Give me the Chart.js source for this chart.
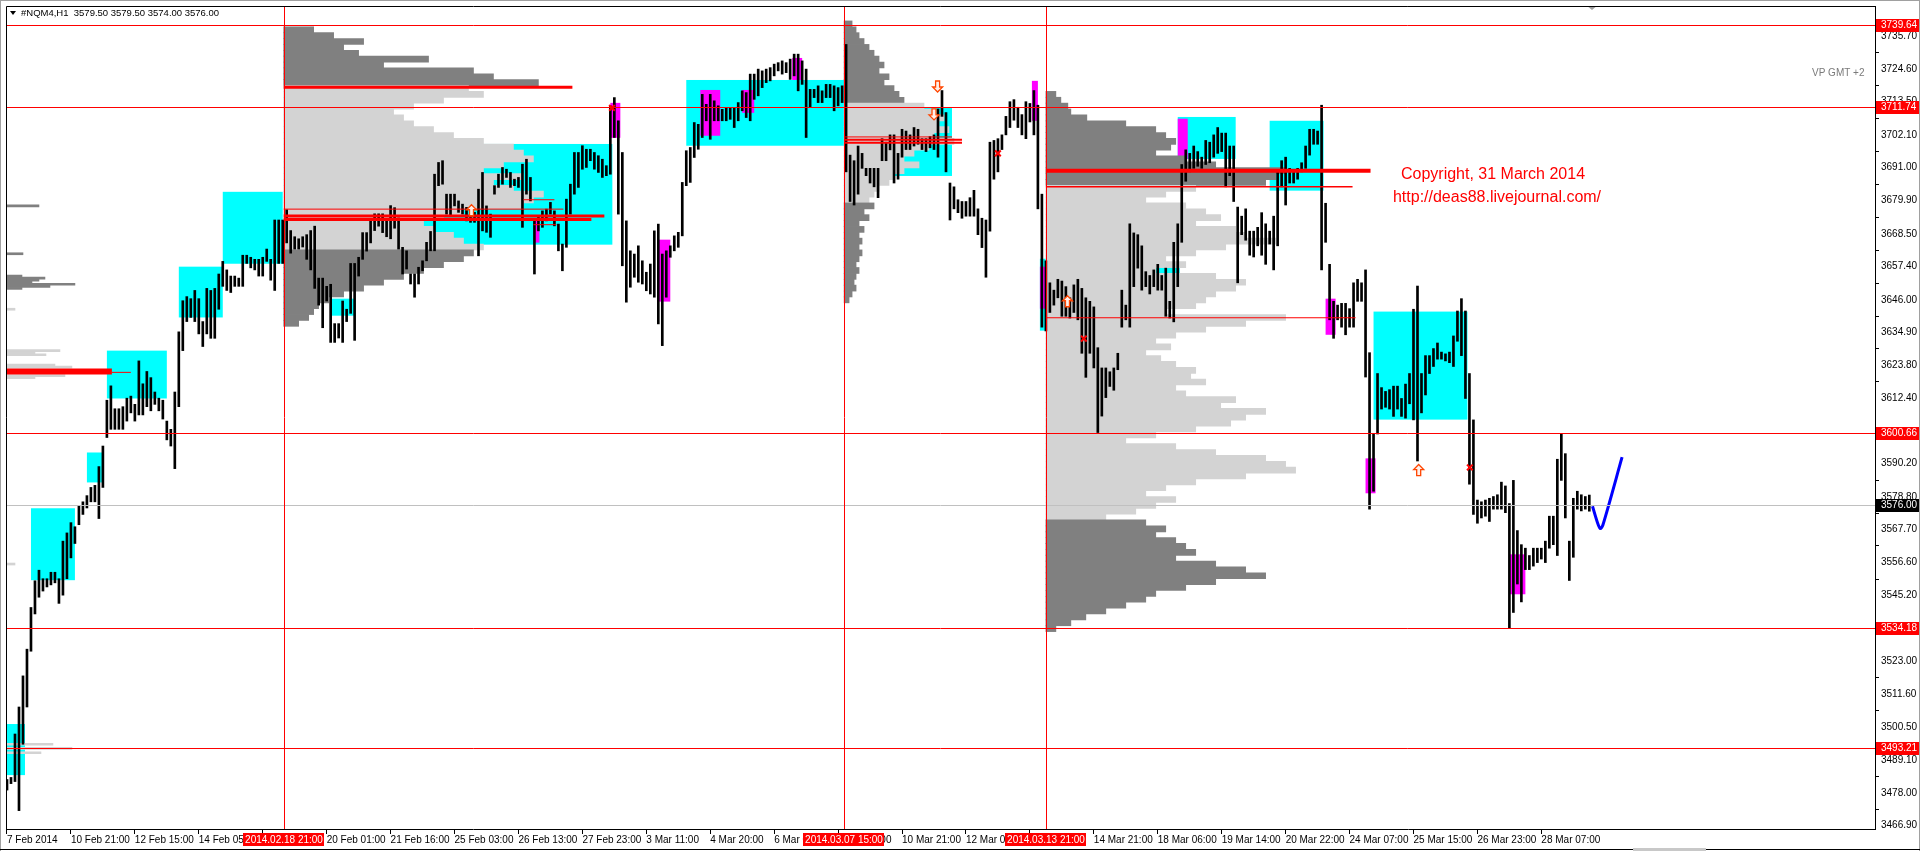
<!DOCTYPE html>
<html>
<head>
<meta charset="utf-8">
<title>#NQM4,H1</title>
<script src="https://cdn.jsdelivr.net/npm/chart.js@4.4.1/dist/chart.umd.min.js"></script>
<style>
html,body{margin:0;padding:0;background:#fff;overflow:hidden;}
canvas{display:block;}
</style>
</head>
<body>
<canvas id="chart" width="1920" height="851"></canvas>
<script>
// ---------------- DATA ----------------
const symbolTitle = '#NQM4,H1';
const lastBarOHLC = ['3579.50', '3579.50', '3574.00', '3576.00'];

// hourly bars (one entry per bar slot), high and low prices
const barHigh = [
3482.6,3483.3,3498.1,3507.3,3517.9,3527.0,3541.2,3550.3,3553.9,3551.0,
3551.0,3553.2,3553.2,3551.0,3563.8,3566.6,3570.1,3568.7,3575.8,3577.2,
3579.3,3582.1,3582.8,3589.2,3596.2,3611.8,3616.7,3608.9,3608.9,3609.6,
3612.5,3613.2,3610.4,3625.2,3617.4,3621.6,3619.5,3614.6,3612.5,3611.8,
3604.7,3601.9,3614.6,3635.1,3645.7,3647.1,3646.4,3649.2,3646.4,3638.6,
3649.9,3649.2,3649.9,3654.8,3659.1,3656.2,3654.1,3654.1,3653.4,3661.2,
3661.2,3660.5,3659.8,3659.8,3660.5,3663.3,3659.8,3673.2,3673.2,3673.2,
3676.7,3669.6,3667.5,3666.8,3667.5,3668.2,3669.6,3671.1,3653.4,3653.4,
3650.6,3651.3,3637.9,3637.9,3645.6,3642.8,3658.4,3658.4,3660.5,3668.9,
3668.9,3673.2,3675.3,3675.3,3675.3,3673.2,3678.1,3677.4,3673.9,3663.9,
3662.7,3654.8,3654.8,3657.1,3659.3,3665.6,3669.3,3688.8,3692.8,3693.4,
3682.0,3682.0,3682.0,3679.7,3678.6,3677.5,3676.3,3675.8,3683.7,3689.4,
3678.0,3675.2,3684.9,3688.8,3691.1,3690.5,3689.4,3687.1,3687.7,3692.2,
3693.9,3687.7,3672.9,3674.1,3676.3,3676.9,3679.2,3676.3,3671.8,3665.0,
3680.3,3685.4,3696.2,3696.2,3698.5,3697.3,3697.3,3696.2,3695.1,3693.9,
3691.7,3712.1,3714.9,3707.0,3696.2,3672.9,3662.7,3661.6,3664.4,3659.3,
3655.4,3658.2,3669.5,3671.8,3661.6,3662.7,3664.4,3667.8,3669.0,3686.0,
3696.8,3697.9,3706.4,3705.8,3716.0,3712.6,3716.0,3713.8,3712.1,3710.9,
3711.5,3711.5,3711.5,3713.2,3717.2,3716.6,3722.9,3722.9,3724.6,3724.0,
3724.6,3725.1,3726.3,3726.8,3727.4,3726.8,3728.0,3729.7,3729.7,3727.4,
3724.6,3717.7,3717.7,3718.9,3717.2,3719.4,3719.4,3718.9,3718.3,3718.9,
3733.0,3695.3,3693.4,3698.4,3695.9,3690.8,3690.8,3690.8,3690.8,3700.9,
3699.7,3702.2,3702.2,3695.9,3704.1,3703.5,3702.2,3704.7,3704.1,3700.9,
3700.9,3701.6,3702.2,3711.0,3717.3,3709.8,3685.8,3684.5,3680.1,3679.5,
3679.5,3680.8,3683.3,3677.0,3673.8,3673.2,3699.7,3700.3,3700.9,3702.2,
3708.5,3713.5,3714.2,3711.6,3709.1,3713.5,3712.9,3717.3,3712.3,3682.0,
3659.3,3651.8,3649.3,3653.0,3652.4,3650.5,3646.7,3651.1,3653.0,3649.9,
3646.7,3645.5,3643.6,3629.7,3622.8,3622.8,3621.5,3622.8,3627.8,3649.3,
3644.2,3671.9,3668.8,3668.2,3664.4,3655.6,3654.3,3656.2,3658.1,3654.3,
3656.8,3645.5,3665.6,3671.9,3692.1,3697.1,3695.9,3698.4,3696.5,3694.6,
3700.3,3699.7,3702.2,3704.7,3702.8,3702.8,3698.4,3698.4,3677.6,3674.5,
3677.0,3669.4,3669.4,3670.7,3675.7,3671.9,3669.4,3674.5,3689.6,3693.4,
3694.6,3690.8,3690.2,3690.8,3692.7,3698.4,3704.1,3704.1,3703.5,3712.3,
3678.9,3658.1,3645.5,3644.2,3644.8,3644.8,3643.0,3651.8,3653.0,3651.8,
3656.2,3628.0,3600.3,3620.9,3616.1,3614.8,3615.4,3616.6,3616.6,3612.4,
3617.3,3620.9,3642.8,3650.7,3620.9,3627.0,3627.0,3629.4,3631.3,3628.2,
3627.6,3628.2,3633.7,3642.2,3646.4,3642.2,3620.9,3605.1,3577.8,3577.2,
3577.8,3578.4,3579.0,3579.6,3583.9,3582.6,3576.6,3584.5,3567.4,3562.6,
3561.4,3558.9,3561.4,3561.4,3561.4,3563.8,3572.3,3572.3,3591.7,3600.3,
3593.6,3563.8,3578.4,3580.8,3579.6,3579.0,3579.5
];
const barLow = [
3479.0,3481.2,3481.9,3472.0,3494.6,3507.3,3526.3,3539.0,3544.7,3546.8,
3548.2,3548.9,3549.6,3542.6,3545.4,3551.0,3558.1,3563.0,3569.4,3572.9,
3575.1,3577.2,3577.2,3571.5,3582.1,3599.1,3601.9,3601.9,3601.9,3601.9,
3604.7,3607.5,3604.7,3606.8,3606.8,3609.6,3608.2,3610.4,3608.2,3605.4,
3598.3,3596.2,3588.5,3609.6,3628.7,3638.6,3640.0,3638.6,3634.4,3630.1,
3634.4,3632.9,3632.9,3642.8,3650.6,3649.2,3648.5,3650.6,3650.6,3650.6,
3658.4,3656.9,3656.2,3654.1,3654.1,3659.1,3652.7,3649.2,3658.4,3658.4,
3665.4,3661.9,3663.3,3663.3,3664.0,3659.8,3656.2,3649.9,3644.2,3636.5,
3645.6,3631.5,3631.5,3633.0,3631.5,3638.6,3641.4,3632.2,3654.1,3659.8,
3662.6,3665.4,3669.6,3671.1,3668.9,3667.5,3666.8,3670.4,3663.3,3654.8,
3656.5,3651.4,3646.9,3651.4,3655.9,3659.3,3662.7,3662.7,3684.9,3685.4,
3675.2,3674.6,3678.0,3675.8,3675.2,3672.9,3672.4,3672.4,3661.0,3669.5,
3669.0,3667.3,3682.0,3684.3,3685.4,3687.7,3684.3,3684.9,3684.3,3670.7,
3682.0,3679.7,3654.8,3669.5,3670.7,3672.9,3675.2,3671.2,3662.7,3655.9,
3663.9,3675.2,3682.0,3684.3,3690.5,3691.1,3693.4,3690.5,3689.4,3687.7,
3688.3,3688.8,3701.3,3675.2,3657.6,3645.2,3650.3,3653.7,3652.0,3651.4,
3649.1,3648.0,3646.9,3637.8,3630.4,3646.9,3660.5,3662.7,3663.9,3667.8,
3684.9,3686.0,3694.5,3697.3,3701.3,3707.0,3700.7,3707.0,3707.0,3707.0,
3707.0,3707.5,3704.7,3707.0,3710.4,3708.1,3707.0,3714.3,3715.5,3718.3,
3720.0,3720.6,3722.3,3724.0,3722.9,3723.4,3721.1,3722.3,3717.2,3719.4,
3701.3,3711.5,3714.9,3713.2,3713.2,3714.9,3714.9,3710.4,3712.1,3713.2,
3689.6,3679.5,3678.3,3682.0,3690.8,3688.3,3685.8,3684.5,3680.8,3693.4,
3693.4,3697.1,3685.8,3687.1,3694.6,3697.2,3697.2,3698.4,3699.0,3697.2,
3696.5,3697.8,3697.2,3694.6,3708.5,3689.6,3673.2,3677.0,3675.7,3673.8,
3674.5,3674.5,3674.5,3668.2,3663.8,3653.7,3669.4,3687.1,3689.6,3697.2,
3702.2,3704.7,3707.2,3704.7,3702.2,3700.9,3706.6,3702.2,3677.0,3636.7,
3635.4,3641.7,3644.2,3646.7,3640.4,3640.4,3639.8,3641.7,3639.2,3627.8,
3619.6,3627.8,3622.8,3600.8,3606.4,3612.7,3616.5,3615.2,3622.2,3636.7,
3639.2,3636.7,3650.5,3656.8,3649.3,3650.5,3648.0,3650.5,3649.3,3649.3,
3640.4,3639.8,3638.5,3650.5,3665.6,3686.4,3689.6,3690.8,3691.5,3690.8,
3692.1,3692.7,3694.6,3695.9,3696.5,3684.5,3688.3,3679.5,3651.8,3668.2,
3666.3,3661.2,3660.6,3664.4,3661.2,3658.1,3665.0,3656.2,3664.4,3684.5,
3678.3,3685.8,3685.8,3687.1,3689.6,3690.8,3695.3,3699.0,3699.0,3656.2,
3665.6,3639.2,3632.9,3639.2,3636.7,3634.1,3636.7,3636.7,3645.5,3645.5,
3619.7,3574.7,3580.8,3600.3,3608.8,3609.4,3608.8,3606.3,3608.8,3606.3,
3605.7,3610.6,3605.1,3591.1,3607.5,3613.6,3620.9,3623.3,3625.8,3625.8,
3625.2,3624.6,3623.3,3631.9,3627.0,3612.4,3583.2,3572.9,3569.9,3571.7,
3572.3,3570.5,3574.7,3574.7,3574.7,3573.5,3534.0,3539.5,3549.2,3543.1,
3554.1,3554.1,3555.3,3556.5,3557.7,3556.5,3561.4,3562.6,3558.9,3584.5,
3571.7,3550.4,3558.3,3574.7,3574.1,3574.7,3574.0
];

// time axis labels (one every 16 bar slots)
const xTickLabels = ['7 Feb 2014','10 Feb 21:00','12 Feb 15:00','14 Feb 05:00','','20 Feb 01:00','21 Feb 16:00',
  '25 Feb 03:00','26 Feb 13:00','27 Feb 23:00','3 Mar 11:00','4 Mar 20:00','6 Mar 06:00','7 Mar 13:00',
  '10 Mar 21:00','12 Mar 05:00','','14 Mar 21:00','18 Mar 06:00','19 Mar 14:00','20 Mar 22:00',
  '24 Mar 07:00','25 Mar 15:00','26 Mar 23:00','28 Mar 07:00'];
// price axis labels
const yTickValues = [3735.70,3724.60,3713.50,3702.10,3691.00,3679.90,3668.50,3657.40,3646.00,3634.90,3623.80,
  3612.40,3590.20,3578.80,3567.70,3556.60,3545.20,3523.00,3511.60,3500.50,3489.10,3478.00,3466.90];

// horizontal levels and current price
const keyLevels = [3739.64, 3711.74, 3600.66, 3534.18, 3493.21];
const lastPrice = 3576.00;
// session starts (bar slot) and their labels
const sessionStarts = [69.25, 209.5, 260];
const sessionLabels = ['2014.02.18 21:00', '2014.03.07 15:00', '2014.03.13 21:00'];

// volume profiles: price levels, volumes, start slot, value area [low, high]
const profALevels = [3678.0,3661.7,3654.1,3653.4,3652.7,3652.0,3651.3,3650.6,3649.9,3642.8,3628.7,3628.0,3627.3,3623.8,3623.1,3620.2,3619.5,3556.0,3494.6,3493.2,3491.7];
const profAVol    = [33,17,16,39,33,26,69,44,16,9,54,29,40,49,66,59,29,9,47,66,35];
const profAStart = -0.25, profAVA = [3490, 3645];

const profBLevels = [3738,3736,3734,3732,3730,3728,3726,3724,3722,3720,3718,3716,3714,3712,3710,3708,3706,3704,3702,3700,3698,3696,3694,3692,3690,3688,3686,3684,3682,3680,3678,3676,3674,3672,3670,3668,3666,3664,3662,3660,3658,3656,3654,3652,3650,3648,3646,3644,3642,3640,3638];
const profBVol    = [30,50,80,60,75,145,100,190,210,255,185,200,160,130,110,120,130,150,170,200,230,240,250,220,200,240,210,230,260,250,240,180,160,140,150,170,180,200,190,180,160,140,120,100,80,60,45,35,30,25,15];
const profBStart = 69.25, profBVA = [3663, 3719];

const profCLevels = [3740,3738,3736,3734,3732,3730,3728,3726,3724,3722,3720,3718,3716,3714,3712,3710,3708,3706,3704,3702,3700,3698,3696,3694,3692,3690,3688,3686,3684,3682,3680,3678,3676,3674,3672,3670,3668,3666,3664,3662,3660,3658,3656,3654,3652,3650,3648,3646];
const profCVol    = [8,12,15,20,25,30,35,40,35,45,40,50,55,60,80,90,100,95,105,90,110,85,70,60,75,60,50,45,35,30,25,30,20,25,15,20,15,18,15,18,15,12,15,12,10,12,8,5];
const profCStart = 209.5, profCVA = [3679, 3713];

const profDLevels = [3716,3714,3712,3710,3708,3706,3704,3702,3700,3698,3696,3694,3692,3690,3688,3686,3684,3682,3680,3678,3676,3674,3672,3670,3668,3666,3664,3662,3660,3658,3656,3654,3652,3650,3648,3646,3644,3642,3640,3638,3636,3634,3632,3630,3628,3626,3624,3622,3620,3618,3616,3614,3612,3610,3608,3606,3604,3602,3600,3598,3596,3594,3592,3590,3588,3586,3584,3582,3580,3578,3576,3574,3572,3570,3568,3566,3564,3562,3560,3558,3556,3554,3552,3550,3548,3546,3544,3542,3540,3538,3536,3534];
const profDVol    = [10,15,22,25,41,80,110,120,130,125,110,140,170,240,230,220,150,120,100,140,160,175,150,190,200,230,180,150,120,140,110,170,200,190,170,160,150,120,240,200,160,130,110,125,100,115,130,150,145,160,130,140,190,175,220,200,185,150,110,80,130,170,220,240,250,200,150,120,100,130,110,90,60,100,120,110,130,140,150,130,170,200,220,170,140,110,100,80,60,40,25,10];
const profDStart = 260, profDVA = [3571, 3684.5];

// zones: [start slot, end slot, top price, bottom price]
const cyanBoxes = [
  [-0.25,4.5,3501.5,3484.1],[6,17,3575.0,3550.5],[20,24,3594.0,3583.8],[25,40,3628.7,3612.4],
  [43,54,3657.3,3640.0],[54,69,3682.8,3658.3],[81.25,87,3646.4,3640.6],[101.75,151.5,3699.1,3664.8],
  [170,209.5,3720.9,3698.5],[219.5,236.5,3711.7,3688.2],[258.5,260,3660.0,3635.5],[280.5,293.5,3656.9,3648.1],
  [293,307.5,3708.3,3694.0],[316,329.5,3707.0,3683.2],[342,365.5,3642.0,3605.2]
];
const magentaBoxes = [
  [151,153.5,3713.1,3701.2],[173.5,178.5,3717.5,3701.9],[184,187,3717.5,3709.7],[196.5,199,3728.4,3720.9],
  [162.75,166,3666.5,3645.4],[132,133.25,3673.0,3665.5],[256.5,258,3720.6,3707.0],[258.5,260,3657.3,3643.0],
  [293,295.5,3707.7,3694.0],[330,332.5,3646.4,3634.1],[340,342.5,3592.0,3580.1],[376,380,3559.3,3545.7]
];
// profile marker segments: [start slot, end slot, price]
const pocSegments = [
  [-0.25,26.25,3621.6],[26.25,31,3621.3],[69.25,141.5,3718.4],[69.25,139.25,3676.9],[69.25,149.5,3674.6],
  [69.25,146.25,3673.4],[129.25,137,3680.1],[131.75,137.5,3671.6],[209.5,236.5,3701.5],[209.5,239,3700.5],
  [209.5,239,3699.5],[260,341.25,3690.0],[260,336.75,3684.5],[260,337.5,3639.9]
];
// signal markers
const upArrows = [{x:116.25,y:3678.4},{x:265.4,y:3647.4},{x:353.3,y:3589.9}];
const downArrows = [{x:232.9,y:3716.8},{x:232.0,y:3707.3}];
const crossMarks = [{x:151.4,y:3711.4},{x:248.0,y:3695.9},{x:269.5,y:3632.8},{x:366.1,y:3588.9}];
// hand-drawn forecast stroke
const forecastLine = [{x:396.8,y:3575.7},{x:398.1,y:3569.9},{x:398.75,y:3568.1},{x:399.4,y:3569.3},{x:404.2,y:3592.4}];

// ---------------- STYLE ----------------
const COL = {red:'#ff0000', cyan:'#00ffff', magenta:'#ff00ff', dark:'#808080', light:'#d3d3d3', cur:'#c0c0c0'};
const FONT = 'Liberation Sans, Arial, sans-serif';
const VOL_SCALE = 0.25;         // slots per volume unit
const X_TICK_STEP = 16;
const segWidths = [6,1,3,1,3,3,1,1,1,2,2,4,1.5,1];

function profileDataset(levels, vols, start, va, thick) {
  return {
    type: 'bar', indexAxis: 'y', grouped: false, order: 10,
    data: levels.map((p, j) => ({ y: p, x: [start, start + vols[j] * VOL_SCALE] })),
    backgroundColor: levels.map(p => (p >= va[0] && p <= va[1]) ? COL.light : COL.dark),
    barThickness: thick, borderWidth: 0
  };
}

const overlay = {
  id: 'overlay',
  beforeDraw(chart) {
    const c = chart.ctx; c.save(); c.fillStyle = '#fff'; c.fillRect(0, 0, chart.width, chart.height); c.restore();
  },
  beforeDatasetsDraw(chart) {
    const {ctx: c, chartArea: a, scales: {x, y}} = chart;
    c.save(); c.beginPath(); c.rect(a.left, a.top, a.right - a.left, a.bottom - a.top); c.clip();
    const fillBox = b => {
      const x0 = x.getPixelForValue(b[0]), x1 = x.getPixelForValue(b[1]);
      const y0 = y.getPixelForValue(b[2]), y1 = y.getPixelForValue(b[3]);
      c.fillRect(x0, y0, x1 - x0, y1 - y0);
    };
    c.fillStyle = COL.cyan; cyanBoxes.forEach(fillBox);
    c.fillStyle = COL.magenta; magentaBoxes.forEach(fillBox);
    c.restore();
  },
  afterDatasetsDraw(chart) {
    const {ctx: c, chartArea: a, scales: {x, y}} = chart;
    c.save(); c.beginPath(); c.rect(a.left, a.top, a.right - a.left, a.bottom - a.top); c.clip();
    // profile segments
    c.strokeStyle = COL.red;
    pocSegments.forEach((s, k) => {
      const yy = y.getPixelForValue(s[2]);
      c.lineWidth = segWidths[k];
      c.beginPath(); c.moveTo(x.getPixelForValue(s[0]), yy); c.lineTo(x.getPixelForValue(s[1]), yy); c.stroke();
    });
    // current price line
    c.lineWidth = 1; c.strokeStyle = COL.cur;
    let yc = Math.round(y.getPixelForValue(lastPrice)) + 0.5;
    c.beginPath(); c.moveTo(a.left, yc); c.lineTo(a.right, yc); c.stroke();
    // key levels
    c.strokeStyle = COL.red;
    keyLevels.forEach(p => {
      const yy = Math.round(y.getPixelForValue(p)) + 0.5;
      c.beginPath(); c.moveTo(a.left, yy); c.lineTo(a.right, yy); c.stroke();
    });
    // session separators
    sessionStarts.forEach(s => {
      const xx = Math.round(x.getPixelForValue(s)) + 0.5;
      c.beginPath(); c.moveTo(xx, a.top); c.lineTo(xx, a.bottom); c.stroke();
    });
    // arrows
    const arrow = (cx, ty, dir) => {
      c.beginPath();
      c.moveTo(cx, ty); c.lineTo(cx + 5, ty + 5 * dir); c.lineTo(cx + 2, ty + 5 * dir);
      c.lineTo(cx + 2, ty + 11 * dir); c.lineTo(cx - 2, ty + 11 * dir); c.lineTo(cx - 2, ty + 5 * dir);
      c.lineTo(cx - 5, ty + 5 * dir); c.closePath();
      c.fillStyle = '#fff0ea'; c.fill(); c.strokeStyle = '#ff4500'; c.lineWidth = 1.3; c.stroke();
    };
    upArrows.forEach(m => arrow(x.getPixelForValue(m.x), y.getPixelForValue(m.y), 1));
    downArrows.forEach(m => arrow(x.getPixelForValue(m.x), y.getPixelForValue(m.y), -1));
    // texts
    c.fillStyle = COL.red; c.textAlign = 'center'; c.textBaseline = 'alphabetic';
    c.font = '16px ' + FONT;
    c.fillText('Copyright, 31 March 2014', 1493, 179);
    c.fillText('http://deas88.livejournal.com/', 1497, 202);
    c.fillStyle = '#7a7a7a'; c.textAlign = 'left'; c.textBaseline = 'middle';
    c.font = '10px ' + FONT;
    c.fillText('VP GMT +2', 1812, 73);
    // chart shift marker
    c.fillStyle = '#a0a0a0';
    c.beginPath(); c.moveTo(1586, 5); c.lineTo(1598, 5); c.lineTo(1592, 10); c.closePath(); c.fill();
    c.restore();
  },
  afterDraw(chart) {
    const {ctx: c, chartArea: a, scales: {x, y}} = chart;
    c.save();
    c.font = '10px ' + FONT; c.textBaseline = 'middle';
    // right axis price boxes
    const priceBox = (p, bg) => {
      const yy = Math.round(y.getPixelForValue(p));
      c.fillStyle = bg; c.fillRect(a.right + 1, yy - 6, 43, 13);
      c.fillStyle = '#fff'; c.textAlign = 'left'; c.fillText(p.toFixed(2), a.right + 6, yy + 0.5);
    };
    keyLevels.forEach(p => priceBox(p, COL.red));
    priceBox(lastPrice, '#000');
    // session date boxes
    sessionStarts.forEach((s, k) => {
      const xx = Math.round(x.getPixelForValue(s));
      c.fillStyle = COL.red; c.fillRect(xx - 41, 833, 81, 13);
      c.fillStyle = '#fff'; c.textAlign = 'center'; c.fillText(sessionLabels[k], xx, 840);
    });
    // frame
    c.strokeStyle = '#000'; c.lineWidth = 1;
    c.beginPath();
    c.moveTo(a.left + 0.5, a.bottom); c.lineTo(a.left + 0.5, a.top + 0.5); c.lineTo(a.right, a.top + 0.5);
    c.stroke();
    // header
    c.fillStyle = '#000';
    c.beginPath(); c.moveTo(10, 11); c.lineTo(16, 11); c.lineTo(13, 15); c.closePath(); c.fill();
    c.textAlign = 'left'; c.font = '9.5px ' + FONT;
    c.fillText(symbolTitle + '  ' + lastBarOHLC.join(' '), 21, 13.5);
    // window border
    c.fillStyle = '#a0a0a0'; c.fillRect(0, 0, 1920, 1); c.fillRect(0, 0, 1, 851); c.fillRect(1919, 0, 1, 851);
    c.fillStyle = '#000'; c.fillRect(0, 849, 1633, 1); c.fillRect(1706, 849, 214, 1);
    c.fillStyle = '#c8c8c8'; c.fillRect(1633, 848, 73, 3);
    c.restore();
  }
};

Chart.defaults.font.family = FONT;
Chart.defaults.font.size = 10;
Chart.defaults.color = '#000';

new Chart(document.getElementById('chart'), {
  type: 'bar',
  data: {
    datasets: [
      { type: 'line', data: forecastLine, borderColor: '#0000ff', borderWidth: 3, pointRadius: 0, tension: 0.3, order: 0 },
      { type: 'scatter', data: crossMarks, pointStyle: 'crossRot', pointRadius: 4, borderColor: COL.red, borderWidth: 2, order: 0 },
      { type: 'bar', data: barHigh.map((h, i) => ({ x: i, y: [barLow[i], h] })), backgroundColor: '#000',
        barThickness: 2, grouped: false, borderWidth: 0, order: 1 },
      profileDataset(profALevels, profAVol, profAStart, profAVA, 2),
      profileDataset(profBLevels, profBVol, profBStart, profBVA, 6),
      profileDataset(profCLevels, profCVol, profCStart, profCVA, 6),
      profileDataset(profDLevels, profDVol, profDStart, profDVA, 6)
    ]
  },
  options: {
    responsive: false, maintainAspectRatio: false, animation: false, devicePixelRatio: 1,
    layout: { padding: { left: 4, top: 5, right: 0, bottom: 0 } },
    plugins: { legend: { display: false }, tooltip: { enabled: false } },
    scales: {
      x: {
        type: 'linear', position: 'bottom', min: -0.25, max: 467.5, offset: false,
        grid: { display: true, drawOnChartArea: false, drawTicks: true, tickLength: 5, tickColor: '#000', offset: false },
        border: { display: true, color: '#000' },
        ticks: { autoSkip: false, maxRotation: 0, align: 'start', padding: 0, font: { size: 10 },
                 callback: (v, idx) => xTickLabels[idx] || '' },
        afterBuildTicks: s => { s.ticks = xTickLabels.map((_, k) => ({ value: k * X_TICK_STEP })); },
        afterFit: s => { s.height = 22; s.paddingLeft = 0; s.paddingRight = 0; }
      },
      y: {
        type: 'linear', position: 'right', min: 3465.74, max: 3746.10, offset: false,
        grid: { display: true, drawOnChartArea: false, drawTicks: true, tickLength: 4, tickColor: '#000' },
        border: { display: true, color: '#000' },
        ticks: { autoSkip: false, padding: 2, font: { size: 10 }, callback: v => Number(v).toFixed(2) },
        afterBuildTicks: s => { s.ticks = yTickValues.map(v => ({ value: v })); },
        afterFit: s => { s.width = 45; s.paddingTop = 0; s.paddingBottom = 0; }
      }
    }
  },
  plugins: [overlay]
});
</script>
</body>
</html>
